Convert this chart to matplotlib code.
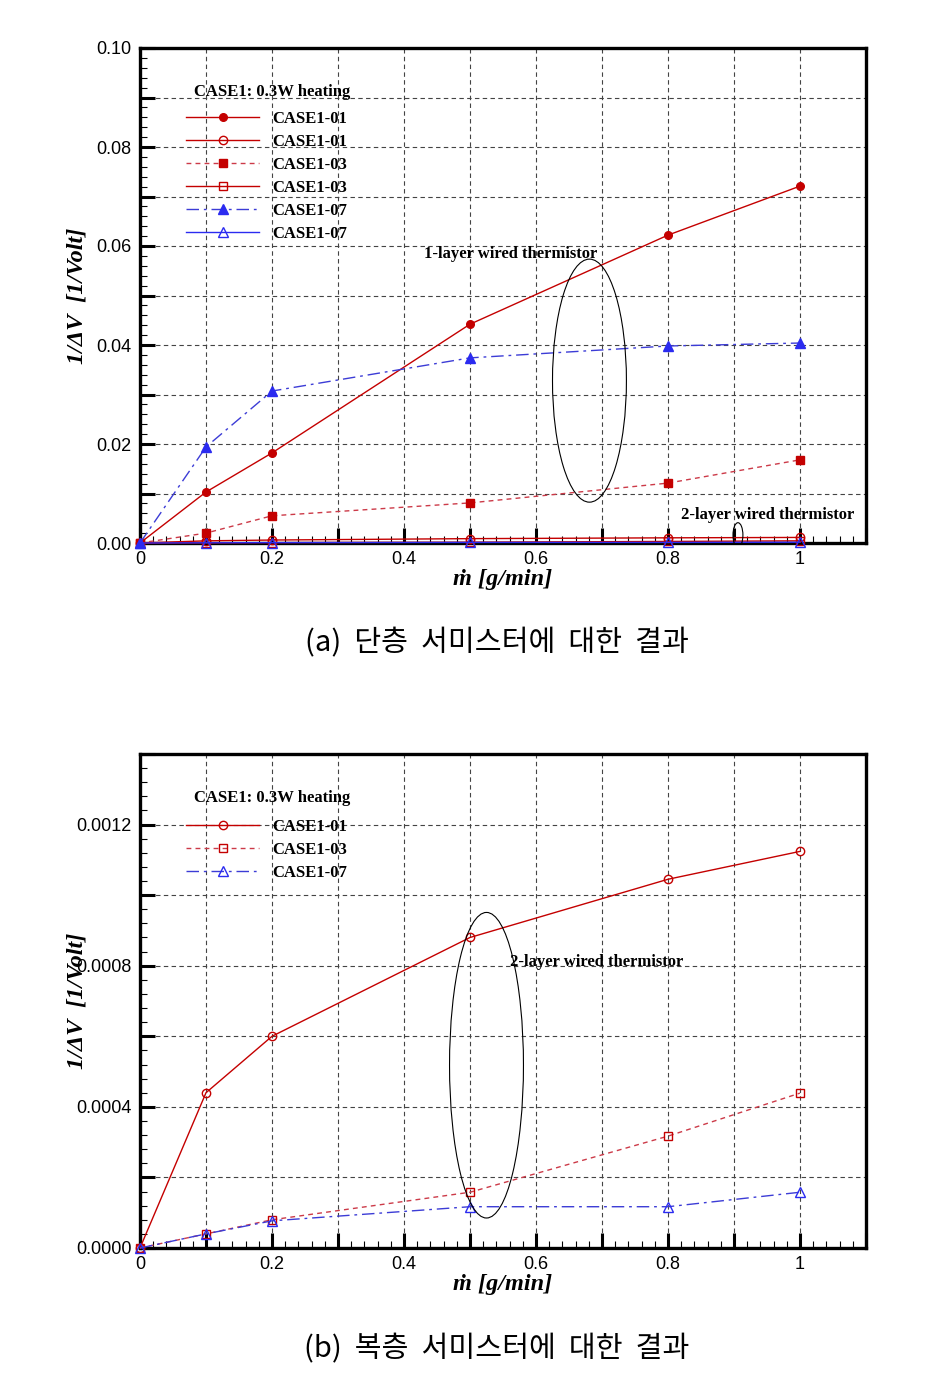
import matplotlib
matplotlib.use("Agg")
import matplotlib.pyplot as plt
from matplotlib.patches import Ellipse
from matplotlib.ticker import MultipleLocator, FuncFormatter
from matplotlib.font_manager import FontProperties

# ---------------- data ----------------
flow_rate = [0.0, 0.1, 0.2, 0.5, 0.8, 1.0]

one_layer_01 = [0.0, 0.0103, 0.0182, 0.0442, 0.0622, 0.0721]
one_layer_03 = [0.0, 0.0020, 0.0055, 0.0081, 0.0121, 0.0168]
one_layer_07 = [0.0, 0.0194, 0.0307, 0.0374, 0.0398, 0.0404]

two_layer_01 = [0.0, 0.00044, 0.00060, 0.00088, 0.001045, 0.001124]
two_layer_03 = [0.0, 0.00004, 0.00008, 0.000158, 0.000317, 0.000439]
two_layer_07 = [0.0, 0.00004, 0.000077, 0.000117, 0.000117, 0.000158]

legend_title = "CASE1: 0.3W heating"
top_labels = ["CASE1-01", "CASE1-01", "CASE1-03", "CASE1-03", "CASE1-07", "CASE1-07"]
bottom_labels = ["CASE1-01", "CASE1-03", "CASE1-07"]
x_ticklabels = {0.0: "0", 0.2: "0.2", 0.4: "0.4", 0.6: "0.6", 0.8: "0.8", 1.0: "1"}
caption_a = "(a)  단층  서미스터에  대한  결과"
caption_b = "(b)  복층  서미스터에  대한  결과"
xlabel = "ṁ [g/min]"
ylabel = "1/ΔV  [1/Volt]"

# ---------------- styles ----------------
RED = "#c40000"
RED_D = "#cc3a48"
BLUE = "#2b2bf0"
BLUE_D = "#3c3cd6"
DASH = (3.5, 3)
DASHDOT = (9, 3.5, 2, 3.5)

serif_b = FontProperties(family="Liberation Serif", weight="bold", size=12)
tick_font = "Liberation Sans"

fig = plt.figure(figsize=(9.44, 13.96), dpi=100)
ax1 = fig.add_axes([140/944, 1-543/1396, 726/944, 495/1396])
ax2 = fig.add_axes([140/944, 1-1248/1396, 726/944, 494/1396])


def style_axes(ax, ymax, ymajor, ylabel_step, yminor, yfmt):
    ax.set_xlim(0, 1.1)
    ax.set_ylim(0, ymax)
    ax.xaxis.set_major_locator(MultipleLocator(0.1))
    ax.xaxis.set_minor_locator(MultipleLocator(0.02))
    ax.yaxis.set_major_locator(MultipleLocator(ymajor))
    ax.yaxis.set_minor_locator(MultipleLocator(yminor))

    def xf(v, pos):
        for k, s in x_ticklabels.items():
            if abs(v - k) < 1e-6:
                return s
        return ""

    def yf(v, pos):
        r = v / ylabel_step
        if abs(r - round(r)) < 1e-6 and v <= ymax + 1e-12:
            return yfmt.format(v)
        return ""

    ax.xaxis.set_major_formatter(FuncFormatter(xf))
    ax.yaxis.set_major_formatter(FuncFormatter(yf))
    ax.tick_params(which="major", direction="in", length=11, width=2.2,
                   labelsize=13, pad=6, top=False, right=False)
    ax.tick_params(which="minor", direction="in", length=5, width=0.8,
                   top=False, right=False)
    for lab in ax.get_xticklabels() + ax.get_yticklabels():
        lab.set_fontfamily(tick_font)
    for sp in ax.spines.values():
        sp.set_linewidth(2.4)
    ax.grid(True, which="major", color="#444444", linestyle=(0, (4, 3)),
            linewidth=0.8)
    ax.set_axisbelow(True)
    ax.set_xlabel(xlabel, fontfamily="Liberation Serif", fontstyle="italic",
                  fontweight="bold", fontsize=17.5)
    ax.xaxis.set_label_coords(0.5, -0.052)
    ax.set_ylabel(ylabel, fontfamily="Liberation Serif", fontstyle="italic",
                  fontweight="bold", fontsize=17.5)
    ax.yaxis.set_label_coords(-0.073, 0.5)


def add_legend(ax, handles, labels, title_y, top_y):
    ax.text(0.182, title_y, legend_title, fontproperties=serif_b,
            transform=ax.transAxes, ha="center", va="center")
    ax.legend(handles, labels, loc="upper left", bbox_to_anchor=(0.0634, top_y),
              frameon=False, prop=serif_b, handlelength=4.4,
              handletextpad=0.8, labelspacing=0.42, borderpad=0,
              borderaxespad=0)


# ---------------- top chart ----------------
style_axes(ax1, 0.10, 0.01, 0.02, 0.002, "{:.2f}")
h = []
h += ax1.plot(flow_rate, one_layer_01, color=RED, lw=1.0, marker="o", ms=5.5,
              mfc=RED, mec=RED, clip_on=False, zorder=5)
h += ax1.plot(flow_rate, two_layer_01, color=RED, lw=1.0, marker="o", ms=6,
              mfc="none", mec=RED, clip_on=False, zorder=5)
h += ax1.plot(flow_rate, one_layer_03, color=RED_D, lw=1.0, linestyle=(0, DASH),
              marker="s", ms=5.5, mfc=RED, mec=RED, clip_on=False, zorder=5)
h += ax1.plot(flow_rate, two_layer_03, color=RED, lw=1.0, marker="s", ms=6,
              mfc="none", mec=RED, clip_on=False, zorder=5)
h += ax1.plot(flow_rate, one_layer_07, color=BLUE_D, lw=1.0, linestyle=(0, DASHDOT),
              marker="^", ms=6.5, mfc=BLUE, mec=BLUE, clip_on=False, zorder=5)
h += ax1.plot(flow_rate, two_layer_07, color=BLUE, lw=1.0, marker="^", ms=6.5,
              mfc="none", mec=BLUE, clip_on=False, zorder=5)
add_legend(ax1, h, top_labels, 0.911, 0.873)

ax1.add_patch(Ellipse((0.681, 0.0328), 0.112, 0.0491, fill=False,
                      ec="black", lw=0.8, zorder=6))
ax1.add_patch(Ellipse((0.906, 0.0016), 0.015, 0.005, fill=False,
                      ec="black", lw=0.8, zorder=6))
ax1.text(0.43, 0.0584, "1-layer wired thermistor", fontproperties=serif_b,
         ha="left", va="center", zorder=7)
ax1.text(0.819, 0.0056, "2-layer wired thermistor", fontproperties=serif_b,
         ha="left", va="center", zorder=7)

# ---------------- bottom chart ----------------
style_axes(ax2, 0.0014, 0.0002, 0.0004, 0.00004, "{:.4f}")
g = []
g += ax2.plot(flow_rate, two_layer_01, color=RED, lw=1.0, marker="o", ms=6,
              mfc="none", mec=RED, clip_on=False, zorder=5)
g += ax2.plot(flow_rate, two_layer_03, color=RED_D, lw=1.0, linestyle=(0, DASH),
              marker="s", ms=6, mfc="none", mec=RED, clip_on=False, zorder=5)
g += ax2.plot(flow_rate, two_layer_07, color=BLUE_D, lw=1.0, linestyle=(0, DASHDOT),
              marker="^", ms=6.5, mfc="none", mec=BLUE, clip_on=False, zorder=5)
add_legend(ax2, g, bottom_labels, 0.911, 0.869)
ax2.add_patch(Ellipse((0.525, 0.000518), 0.112, 0.000866, fill=False,
                      ec="black", lw=0.8, zorder=6))
ax2.text(0.561, 0.00081, "2-layer wired thermistor", fontproperties=serif_b,
         ha="left", va="center", zorder=7)

# ---------------- captions ----------------
fig.text(497/944, 1-643/1396, caption_a, family=["Noto Sans CJK KR", "DejaVu Sans"],
         fontsize=21, ha="center", va="center")
fig.text(497/944, 1-1349/1396, caption_b, family=["Noto Sans CJK KR", "DejaVu Sans"],
         fontsize=21, ha="center", va="center")

fig.savefig("out.png", dpi=100)
